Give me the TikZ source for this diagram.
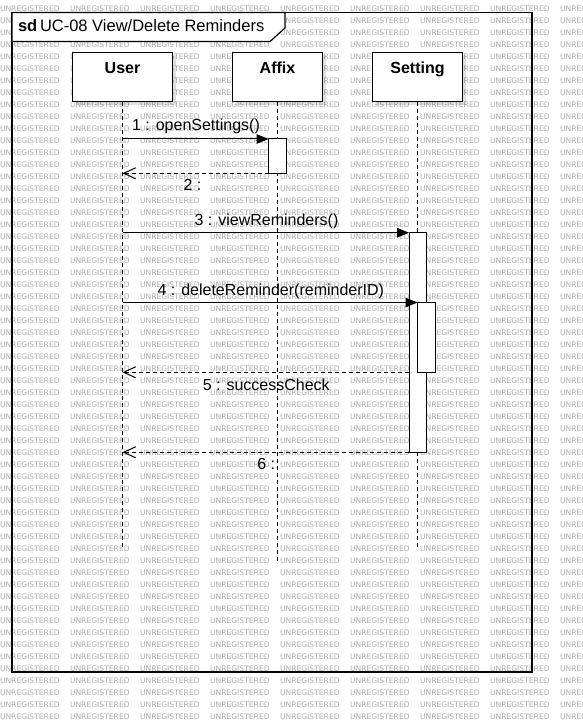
\documentclass[tikz,border=0pt]{standalone}
\usepackage{fontspec}
\setmainfont{Liberation Sans}
\newfontfamily\wmfont{DejaVu Sans}
\usetikzlibrary{arrows.meta,shadows}
\definecolor{wmgray}{HTML}{ABABAB}
\begin{document}
\begin{tikzpicture}[x=1pt,y=-1pt,
  every node/.style={font=\fontsize{16}{19}\selectfont, inner sep=0pt, outer sep=0pt},
  wm/.style={font=\wmfont\fontsize{7.6}{9}\selectfont, text=wmgray, anchor=west, inner sep=0pt},
  head/.style={draw=black, line width=1pt, fill=white, anchor=north west, minimum height=49.5pt,
    drop shadow={shadow xshift=3pt, shadow yshift=-3pt, fill=black, opacity=0.12}},
  headtext/.style={anchor=base, font=\fontsize{16}{19}\selectfont\bfseries},
  lifeline/.style={draw=black, line width=0.9pt, dash pattern=on 4pt off 3pt},
  act/.style={draw=black, fill=white, line width=1pt, anchor=north west, minimum width=17.5pt},
  call/.style={draw=black, line width=1pt, -{Triangle[length=12pt,width=9.5pt]}},
  ret/.style={draw=black, line width=1pt, dash pattern=on 4pt off 3pt, -{Straight Barb[length=12pt,width=11pt]}},
  lbl/.style={anchor=base}]
\useasboundingbox (0,0) rectangle (582,722);
\fill[white] (0,0) rectangle (582,722);
% watermark
\begin{scope}
\clip (0,0) rectangle (582,722);
\foreach \r in {0,...,59}{\foreach \c in {0,...,8}{
  \node[wm] (wm-\r-\c) at (70*\c, 8.5+12*\r) {UNREGISTERED};}}
\end{scope}
% frame
\draw[line width=1.2pt] (12,12.5) rectangle (532,672);
\draw[line width=1.2pt, fill=white] (12,12.5) -- (285,12.5) -- (285,28) -- (270,41.5) -- (12,41.5) -- cycle;
\node[anchor=base west, font=\fontsize{16.5}{19}\selectfont\bfseries] (sd) at (18,31.5) {sd};
\node[anchor=base west, font=\fontsize{16.5}{19}\selectfont] (title) at (40,31.5) {UC-08 View/Delete Reminders};
% lifeline heads
\node[head, minimum width=100pt] (user) at (72.5,52.5) {};
\node[head, minimum width=90pt] (affix) at (232.5,52.5) {};
\node[head, minimum width=90pt] (setting) at (372.5,52.5) {};
\node[headtext] (userlbl) at (user.center |- 0,74) {User};
\node[headtext] (affixlbl) at (affix.center |- 0,74) {Affix};
\node[headtext] (settinglbl) at (setting.center |- 0,74) {Setting};
% lifelines
\coordinate (userend) at (122.5,549);
\coordinate (affixend) at (277.5,561.5);
\coordinate (settingend) at (417.5,549);
\draw[lifeline] (user.south) -- (userend);
\draw[lifeline] (affix.south) -- (affixend);
\draw[lifeline] (setting.south) -- (settingend);
% activations
\node[act, minimum height=34.3pt] (act1) at (268.5,139) {};
\node[act, minimum height=219.6pt] (act3) at (409,232.7) {};
% messages
\draw[call] (user.center |- act1.north) -- (act1.north west);
\node[lbl] (m1) at (196,130.5) {1 : openSettings()};
\draw[ret] (act1.south west) -- (user.center |- act1.south);
\node[lbl] (m2) at (192.5,190) {2 :};
\draw[call] (user.center |- act3.north) -- (act3.north west);
\node[lbl] (m3) at (266.5,225) {3 : viewReminders()};
\coordinate (m4y) at (0,302.5);
\draw[call] (user.center |- m4y) -- (417.5,302.5) coordinate (act4top);
\node[act, minimum height=69.8pt] (act4) at (act4top) {};
\node[lbl] (m4) at (270.8,295.5) {4 : deleteReminder(reminderID)};
\draw[ret] (act3.west |- act4.south) -- (user.center |- act4.south);
\node[lbl] (m5) at (266.3,390) {5 : successCheck};
\draw[ret] (act3.south west) -- (user.center |- act3.south);
\node[lbl] (m6) at (266.3,469.3) {6 :};
\end{tikzpicture}
\end{document}
